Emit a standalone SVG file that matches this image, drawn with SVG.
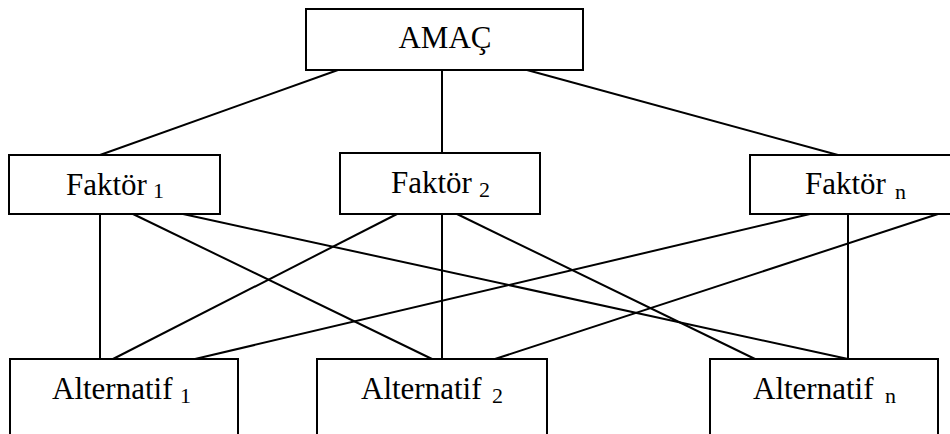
<svg xmlns="http://www.w3.org/2000/svg" width="950" height="434" viewBox="0 0 950 434">
  <style>
    .box { fill: #ffffff; stroke: #000000; stroke-width: 2; }
    .lbl { font-family: "Liberation Serif", "Times New Roman", serif; font-size: 31px; fill: #000000; }
    .sub { font-size: 22px; }
    #connectors line { stroke: #000000; stroke-width: 2; }
  </style>
  <rect width="950" height="434" fill="#ffffff"/>

  <!-- connectors -->
  <g id="connectors">
    <!-- goal to factors -->
    <line x1="338" y1="70" x2="100" y2="155"/>
    <line x1="442" y1="70" x2="442" y2="153"/>
    <line x1="527" y1="70" x2="838" y2="155"/>
    <!-- factor 1 to alternatives -->
    <line x1="100" y1="214" x2="100" y2="359"/>
    <line x1="133" y1="214" x2="432" y2="359"/>
    <line x1="183" y1="214" x2="848" y2="359"/>
    <!-- factor 2 to alternatives -->
    <line x1="397" y1="214" x2="113" y2="359"/>
    <line x1="442" y1="214" x2="442" y2="359"/>
    <line x1="457" y1="214" x2="755" y2="359"/>
    <!-- factor n to alternatives -->
    <line x1="810" y1="214" x2="195" y2="359"/>
    <line x1="848" y1="214" x2="848" y2="359"/>
    <line x1="938" y1="214" x2="495" y2="359"/>
  </g>

  <g id="goal">
    <rect class="box" x="306" y="9" width="277" height="61"/>
    <text class="lbl" x="445" y="48" text-anchor="middle">AMAÇ</text>
  </g>

  <g id="factor1">
    <rect class="box" x="9" y="155" width="211" height="59"/>
    <text class="lbl" x="66" y="195">Faktör<tspan class="sub" x="153" y="198">1</tspan></text>
  </g>

  <g id="factor2">
    <rect class="box" x="340" y="153" width="200" height="61"/>
    <text class="lbl" x="391" y="193">Faktör<tspan class="sub" x="479" y="197">2</tspan></text>
  </g>

  <g id="factorN">
    <rect class="box" x="750" y="155" width="210" height="59"/>
    <text class="lbl" x="805" y="194">Faktör<tspan class="sub" x="895" y="199">n</tspan></text>
  </g>

  <g id="alt1">
    <rect class="box" x="10" y="359" width="228" height="90"/>
    <text class="lbl" x="52" y="399">Alternatif<tspan class="sub" x="180" y="403">1</tspan></text>
  </g>

  <g id="alt2">
    <rect class="box" x="317" y="359" width="230" height="90"/>
    <text class="lbl" x="361" y="399">Alternatif<tspan class="sub" x="492" y="403">2</tspan></text>
  </g>

  <g id="altN">
    <rect class="box" x="710" y="359" width="228" height="90"/>
    <text class="lbl" x="753" y="399">Alternatif<tspan class="sub" x="885" y="403">n</tspan></text>
  </g>
</svg>
